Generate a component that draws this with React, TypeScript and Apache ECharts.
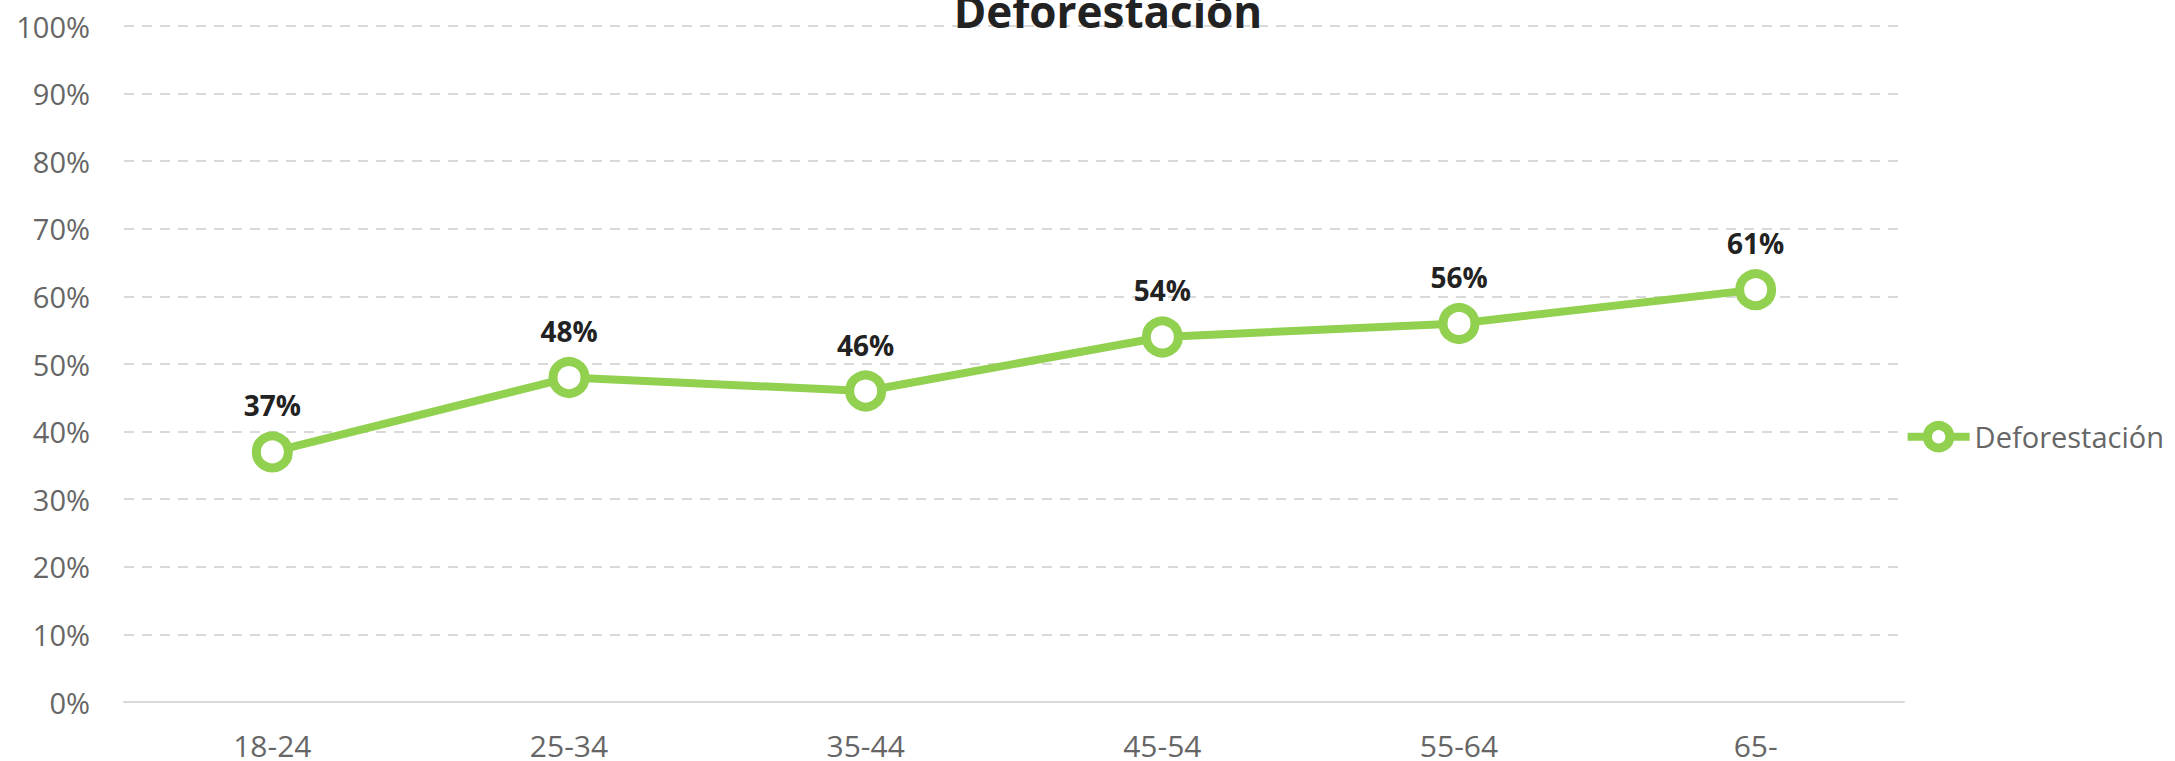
import React, { useEffect, useRef } from "react";
import * as echarts from "echarts";

const categories = ["18-24", "25-34", "35-44", "45-54", "55-64", "65-"];
const values = [37, 48, 46, 54, 56, 61];
const seriesName = "Deforestación";
const titleText = "Deforestación";

const FONT = "'Open Sans', 'Noto Sans', sans-serif";
const GREEN = "#92d050";

export default function App() {
  const ref = useRef<HTMLDivElement>(null);
  useEffect(() => {
    if (!ref.current) return;
    const chart = echarts.init(ref.current, undefined, { renderer: "svg" });
    chart.setOption({
      animation: false,
      backgroundColor: "#ffffff",
      title: {
        text: titleText,
        left: 1103,
        textAlign: "center",
        top: -16,
        textStyle: { fontFamily: FONT, fontWeight: "bold", fontSize: 44, color: "#222222" },
      },
      legend: {
        right: 6,
        top: 416,
        orient: "vertical",
        itemWidth: 62,
        itemHeight: 28,
        itemGap: 4,
        textStyle: { fontFamily: FONT, fontSize: 29, color: "#666666" },
        data: [
          {
            name: seriesName,
            itemStyle: { color: "#ffffff", borderColor: GREEN, borderWidth: 9 },
            lineStyle: { color: GREEN, width: 8 },
          },
        ],
      },
      grid: { left: 124, right: 271, top: 26, bottom: 59, containLabel: false, outerBoundsMode: "none" },
      xAxis: {
        type: "category",
        data: categories,
        boundaryGap: true,
        axisLine: { lineStyle: { color: "#d9d9d9", width: 2 } },
        axisTick: { show: false },
        axisLabel: { fontFamily: FONT, fontSize: 30, color: "#666666", margin: 28 },
      },
      yAxis: {
        type: "value",
        min: 0,
        max: 100,
        interval: 10,
        axisLine: { show: false },
        axisTick: { show: false },
        axisLabel: { fontFamily: FONT, fontSize: 29, color: "#666666", margin: 34, formatter: "{value}%" },
        splitLine: { lineStyle: { color: "#d9d9d9", width: 2, type: [10, 8] } },
      },
      series: [
        {
          name: seriesName,
          type: "line",
          data: values,
          symbol: "circle",
          symbolSize: 32,
          lineStyle: { color: GREEN, width: 8 },
          itemStyle: { color: "#ffffff", borderColor: GREEN, borderWidth: 9 },
          label: {
            show: true,
            position: "top",
            distance: 12,
            formatter: "{c}%",
            fontFamily: FONT,
            fontWeight: "bold",
            fontSize: 28,
            color: "#222222",
          },
        },
      ],
    });
    return () => chart.dispose();
  }, []);
  return (
    <div
      ref={ref}
      style={{ position: "fixed", left: 0, top: 0, width: 2175, height: 761 }}
    />
  );
}
